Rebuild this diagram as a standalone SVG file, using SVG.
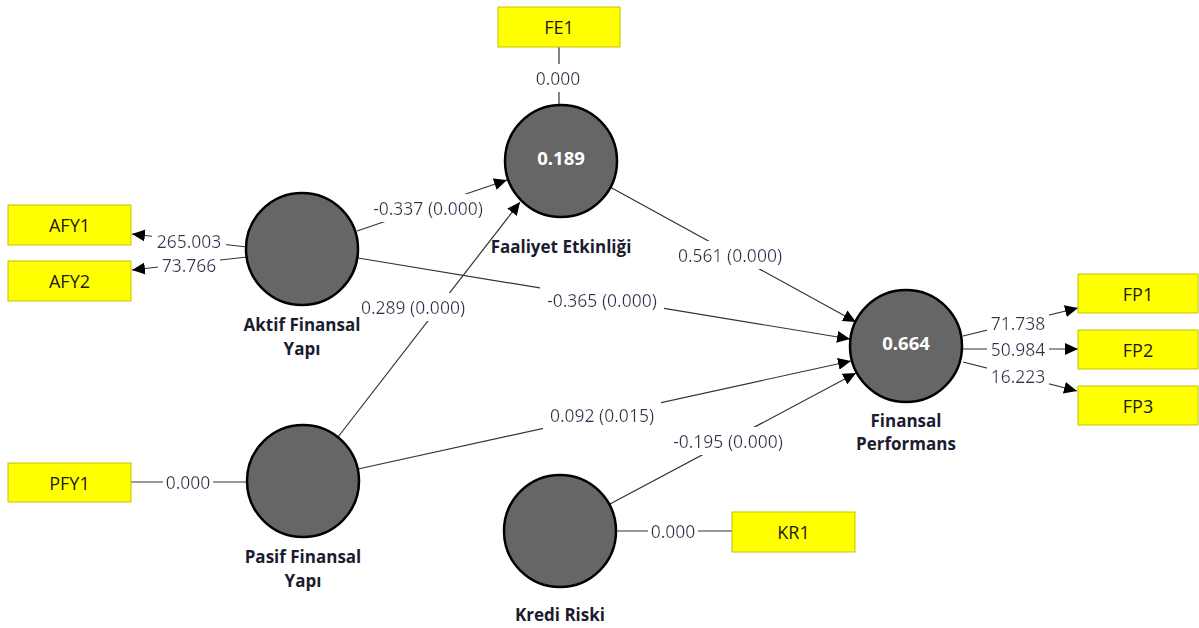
<svg xmlns="http://www.w3.org/2000/svg" width="1199" height="628" viewBox="0 0 1199 628">
<style>
.bg{fill:#ffffff}
.lat{fill:#666666;stroke:#000000;stroke-width:2.5}
.ind{fill:#ffff00;stroke:#c4c400;stroke-width:1}
.edge{stroke:#333333;stroke-width:1.2;fill:none}
.arr{marker-end:url(#ah)}
.lbl{font-family:"Open Sans","Liberation Sans",sans-serif;font-size:17.5px;fill:#2e2e52;text-anchor:middle;dominant-baseline:central;filter:url(#wbg)}
.name{font-family:"Open Sans","Liberation Sans",sans-serif;font-size:17px;font-weight:bold;fill:#1c1c30;text-anchor:middle}
.val{font-family:"Open Sans","Liberation Sans",sans-serif;font-size:18.5px;font-weight:bold;fill:#ffffff;text-anchor:middle;dominant-baseline:central}
.itxt{font-family:"Open Sans","Liberation Sans",sans-serif;font-size:18px;fill:#1a1a1a;text-anchor:middle;dominant-baseline:central}
</style>
<defs>
<marker id="ah" markerWidth="14" markerHeight="12" refX="13" refY="6" orient="auto" markerUnits="userSpaceOnUse">
<path d="M0,0 L13,6 L0,12 Z" fill="#000000"/>
</marker>
<filter id="wbg" x="-0.06" y="-0.05" width="1.12" height="1.1">
<feFlood flood-color="#ffffff"/>
<feComposite in="SourceGraphic" operator="over"/>
</filter>
</defs>
<rect class="bg" x="0" y="0" width="1199" height="628"/>
<g id="connectors">
<line class="edge arr" x1="357" y1="231" x2="507" y2="180"/>
<line class="edge arr" x1="338" y1="437" x2="520" y2="202"/>
<line class="edge arr" x1="610" y1="187" x2="856" y2="322"/>
<line class="edge arr" x1="358" y1="258" x2="850" y2="339"/>
<line class="edge arr" x1="358" y1="469" x2="851" y2="361"/>
<line class="edge arr" x1="610" y1="504" x2="856" y2="373"/>
<line class="edge" x1="559" y1="47" x2="559" y2="105"/>
<line class="edge arr" x1="247" y1="247" x2="132" y2="234"/>
<line class="edge arr" x1="247" y1="257" x2="132" y2="270"/>
<line class="edge" x1="131" y1="482" x2="247" y2="482"/>
<line class="edge" x1="617" y1="531" x2="732" y2="531"/>
<line class="edge arr" x1="963" y1="336" x2="1078" y2="308"/>
<line class="edge arr" x1="963" y1="349" x2="1078" y2="349"/>
<line class="edge arr" x1="963" y1="362" x2="1077" y2="391"/>
<text class="lbl" x="428" y="208">-0.337 (0.000)</text>
<text class="lbl" x="413" y="307">0.289 (0.000)</text>
<text class="lbl" x="730" y="255">0.561 (0.000)</text>
<text class="lbl" x="602" y="300">-0.365 (0.000)</text>
<text class="lbl" x="602" y="415">0.092 (0.015)</text>
<text class="lbl" x="728" y="441">-0.195 (0.000)</text>
<text class="lbl" x="558" y="78">0.000</text>
<text class="lbl" x="189" y="241">265.003</text>
<text class="lbl" x="189" y="265">73.766</text>
<text class="lbl" x="188" y="482">0.000</text>
<text class="lbl" x="673" y="531">0.000</text>
<text class="lbl" x="1018" y="323">71.738</text>
<text class="lbl" x="1018" y="349">50.984</text>
<text class="lbl" x="1018" y="376">16.223</text>
</g>
<g id="AFY">
<circle class="lat" cx="302" cy="249" r="56"/>
<text class="name" x="302" y="331">Aktif Finansal</text>
<text class="name" x="302" y="355">Yapı</text>
</g>
<g id="FE">
<circle class="lat" cx="561" cy="161" r="56"/>
<text class="val" x="561" y="157">0.189</text>
<text class="name" x="561" y="253">Faaliyet Etkinliği</text>
</g>
<g id="FP">
<circle class="lat" cx="906" cy="346" r="56"/>
<text class="val" x="906" y="342">0.664</text>
<text class="name" x="906" y="427">Finansal</text>
<text class="name" x="906" y="450">Performans</text>
</g>
<g id="PFY">
<circle class="lat" cx="303" cy="481" r="56"/>
<text class="name" x="303" y="563">Pasif Finansal</text>
<text class="name" x="303" y="587">Yapı</text>
</g>
<g id="KR">
<circle class="lat" cx="560" cy="531" r="56"/>
<text class="name" x="560" y="621">Kredi Riski</text>
</g>
<g id="AFY1"><rect class="ind" x="8" y="205" width="123" height="40"/><text class="itxt" x="69.5" y="225">AFY1</text></g>
<g id="AFY2"><rect class="ind" x="8" y="261" width="123" height="40"/><text class="itxt" x="69.5" y="281">AFY2</text></g>
<g id="FE1"><rect class="ind" x="498" y="7" width="122" height="40"/><text class="itxt" x="559" y="27">FE1</text></g>
<g id="FP1"><rect class="ind" x="1078" y="274" width="120" height="39"/><text class="itxt" x="1138" y="293.5">FP1</text></g>
<g id="FP2"><rect class="ind" x="1078" y="330" width="120" height="39"/><text class="itxt" x="1138" y="349.5">FP2</text></g>
<g id="FP3"><rect class="ind" x="1078" y="386" width="120" height="39"/><text class="itxt" x="1138" y="405.5">FP3</text></g>
<g id="PFY1"><rect class="ind" x="8" y="463" width="123" height="39"/><text class="itxt" x="69.5" y="482.5">PFY1</text></g>
<g id="KR1"><rect class="ind" x="732" y="512" width="123" height="40"/><text class="itxt" x="793.5" y="532">KR1</text></g>
</svg>
